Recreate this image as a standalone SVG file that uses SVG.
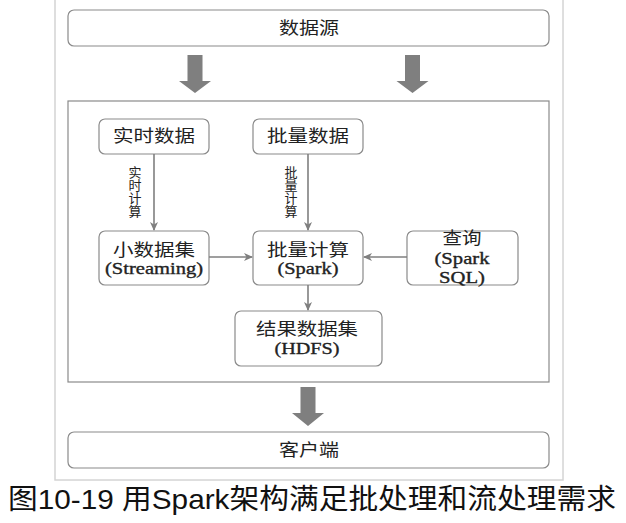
<svg xmlns="http://www.w3.org/2000/svg" width="626" height="523" viewBox="0 0 626 523">
<style>
.frame{fill:none;stroke:#d4d4d4;stroke-width:1.5}
.inner{fill:none;stroke:#8a8a8a;stroke-width:1.2}
.box{fill:#fff;stroke:#8a8a8a;stroke-width:1.2}
.big{fill:#7f7f7f}
.conn{fill:none;stroke:#7f7f7f;stroke-width:1.6}
.t{font-family:"Liberation Serif","Noto Sans CJK SC",serif;font-size:17px;fill:#222;text-anchor:middle}
.tl{font-family:"Liberation Serif","Noto Sans CJK SC",serif;font-size:17px;fill:#222;stroke:#222;stroke-width:0.35;text-anchor:middle}
.v{font-family:"Liberation Serif","Noto Sans CJK SC",serif;font-size:13px;fill:#222;writing-mode:vertical-rl;text-orientation:upright;text-anchor:start}
.cap{font-family:"Liberation Sans","Noto Sans CJK SC",sans-serif;font-size:28px;fill:#111}
</style>
<defs>
<marker id="ah" markerWidth="10" markerHeight="10" refX="8" refY="5" orient="auto" markerUnits="userSpaceOnUse">
<path d="M0,1 L9,5 L0,9 L2.5,5 Z" fill="#7f7f7f"/>
</marker>
</defs>
<rect x="0" y="0" width="626" height="523" fill="#fff"/>
<rect class="frame" x="55" y="-4" width="508" height="484"/>

<g id="datasource">
<rect class="box" x="68" y="10" width="481" height="36" rx="6"/>
<text class="t" x="309" y="34" textLength="60" lengthAdjust="spacingAndGlyphs">数据源</text>
</g>

<g id="big-arrows">
<path class="big" d="M187.5,55 H202.5 V81 H211 L195,93 L179,81 H187.5 Z"/>
<path class="big" d="M405,55 H420 V81 H428.5 L412.5,93 L396.5,81 H405 Z"/>
<path class="big" d="M300.5,387 H315.5 V413 H324 L308,426 L292,413 H300.5 Z"/>
</g>

<g id="system">
<rect class="inner" x="68" y="101" width="481" height="281"/>
</g>

<g id="realtime-data">
<rect class="box" x="99" y="119" width="110" height="35" rx="6"/>
<text class="t" x="154" y="142" textLength="82" lengthAdjust="spacingAndGlyphs">实时数据</text>
</g>

<g id="batch-data">
<rect class="box" x="253" y="119" width="110" height="35" rx="6"/>
<text class="t" x="308" y="142" textLength="82" lengthAdjust="spacingAndGlyphs">批量数据</text>
</g>

<g id="small-dataset">
<rect class="box" x="99" y="231" width="110" height="54" rx="6"/>
<text class="t" x="154" y="256" textLength="82" lengthAdjust="spacingAndGlyphs">小数据集</text>
<text class="tl" x="154" y="274" textLength="98" lengthAdjust="spacingAndGlyphs">(Streaming)</text>
</g>

<g id="batch-compute">
<rect class="box" x="253" y="231" width="110" height="54" rx="6"/>
<text class="t" x="308" y="256" textLength="82" lengthAdjust="spacingAndGlyphs">批量计算</text>
<text class="tl" x="308" y="274" textLength="61" lengthAdjust="spacingAndGlyphs">(Spark)</text>
</g>

<g id="query">
<rect class="box" x="407" y="231" width="111" height="54" rx="6"/>
<text class="t" x="462" y="244" textLength="39" lengthAdjust="spacingAndGlyphs">查询</text>
<text class="tl" x="462" y="264" textLength="55" lengthAdjust="spacingAndGlyphs">(Spark</text>
<text class="tl" x="462" y="283" textLength="46" lengthAdjust="spacingAndGlyphs">SQL)</text>
</g>

<g id="result-dataset">
<rect class="box" x="235" y="311" width="147" height="55" rx="6"/>
<text class="t" x="307" y="335" textLength="102" lengthAdjust="spacingAndGlyphs">结果数据集</text>
<text class="tl" x="307" y="354" textLength="65" lengthAdjust="spacingAndGlyphs">(HDFS)</text>
</g>

<g id="client">
<rect class="box" x="68" y="432" width="481" height="36" rx="6"/>
<text class="t" x="309" y="456" textLength="60" lengthAdjust="spacingAndGlyphs">客户端</text>
</g>

<g id="connectors">
<line class="conn" x1="154" y1="154" x2="154" y2="230" marker-end="url(#ah)"/>
<line class="conn" x1="308" y1="154" x2="308" y2="230" marker-end="url(#ah)"/>
<line class="conn" x1="209" y1="257" x2="252" y2="257" marker-end="url(#ah)"/>
<line class="conn" x1="407" y1="257" x2="364" y2="257" marker-end="url(#ah)"/>
<line class="conn" x1="308" y1="285" x2="308" y2="310" marker-end="url(#ah)"/>
<text class="v" x="134" y="166">实时计算</text>
<text class="v" x="290" y="166">批量计算</text>
</g>

<text class="cap" x="8" y="509" textLength="608" lengthAdjust="spacingAndGlyphs">图10-19 用Spark架构满足批处理和流处理需求</text>
</svg>
